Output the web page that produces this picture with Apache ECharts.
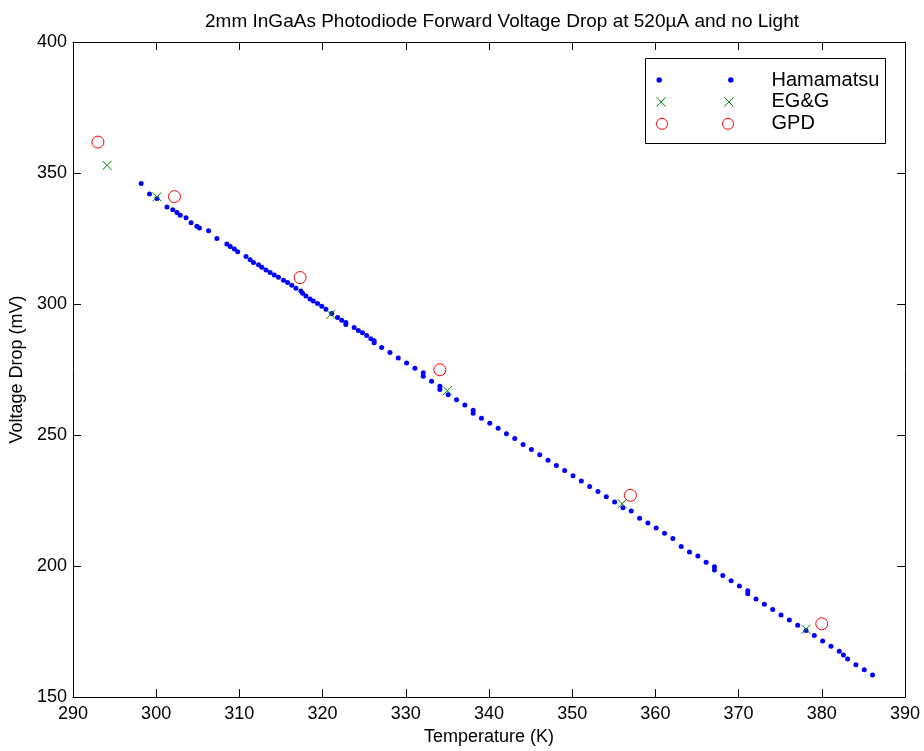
<!DOCTYPE html>
<html>
<head>
<meta charset="utf-8">
<script src="https://cdn.jsdelivr.net/npm/echarts@6/dist/echarts.min.js"></script>
<style>
  html, body { margin: 0; padding: 0; background: #fff; }
  #chart { width: 924px; height: 751px; }
</style>
</head>
<body>
<div id="chart"></div>
<script>
// Hamamatsu measurements (temperature K, voltage mV)
const hamTemp = [298.2, 299.2, 300.1, 301.3, 302.0, 302.5, 302.9, 303.6, 304.2, 304.9, 305.2, 306.3, 307.3,
  308.5, 308.9, 309.4, 309.8, 310.8, 311.3, 311.7, 312.3, 312.7, 313.2, 313.7, 314.2, 314.7, 315.3, 315.8,
  316.3, 316.8, 317.4, 317.6, 318.0, 318.5, 318.9, 319.4, 319.9, 320.4, 321.1, 321.8, 322.3, 322.8, 322.8,
  323.8, 324.3, 324.8, 325.3, 325.8, 326.2, 326.2, 327.1, 328.1, 329.1, 330.1, 331.1, 332.1, 332.1, 333.1,
  334.1, 334.1, 335.1, 336.1, 337.1, 338.1, 338.1, 339.1, 340.1, 341.1, 342.1, 343.1, 344.1, 345.1, 346.1,
  347.1, 348.1, 349.1, 350.1, 351.1, 352.1, 353.1, 354.1, 355.1, 356.1, 357.1, 358.1, 359.1, 360.1, 361.1,
  362.1, 363.1, 364.1, 365.1, 366.1, 367.1, 367.1, 368.1, 369.1, 370.1, 371.1, 371.1, 372.1, 373.1, 374.1,
  375.1, 376.1, 377.1, 378.1, 379.1, 380.1, 381.1, 382.1, 382.6, 383.1, 384.1, 385.1, 386.1]
const hamVolt = [346.0, 342.0, 340.3, 337.0, 336.0, 334.9, 333.9, 332.9, 331.0, 329.7, 329.0, 328.0, 325.0,
  322.9, 322.0, 321.0, 320.0, 318.1, 316.9, 315.9, 315.0, 314.0, 313.0, 312.0, 311.1, 310.2, 309.1, 308.2,
  307.2, 306.0, 305.0, 304.1, 303.1, 301.9, 301.2, 300.2, 299.2, 298.0, 296.4, 294.9, 293.8, 293.0, 292.2,
  291.0, 289.9, 289.0, 288.0, 286.8, 286.0, 285.2, 283.4, 281.5, 279.4, 277.5, 275.5, 273.8, 272.4, 270.5,
  268.6, 267.4, 265.4, 263.5, 261.5, 259.5, 258.3, 256.4, 254.5, 252.6, 250.5, 248.7, 246.4, 244.5, 242.5,
  240.4, 238.4, 236.5, 234.5, 232.5, 230.4, 228.5, 226.5, 224.5, 222.3, 221.0, 218.3, 216.4, 214.5, 212.5,
  210.5, 207.5, 205.4, 203.8, 201.5, 199.7, 198.5, 196.4, 194.4, 192.4, 190.6, 189.4, 187.4, 185.4, 183.4,
  181.3, 179.4, 177.4, 175.4, 173.5, 171.4, 169.4, 167.5, 166.1, 164.5, 162.3, 160.4, 158.4]

// EG&G
const egTemp = [294.1, 300.1, 321.0, 335.0, 356.0, 378.1]
const egVolt = [352.9, 340.9, 296.1, 266.9, 223.8, 175.9]

// GPD
const gpdTemp = [293.0, 302.2, 317.3, 334.1, 357.0, 380.0]
const gpdVolt = [361.8, 341.0, 310.1, 274.9, 227.0, 178.0]

const xMin = 290, xMax = 390, xStep = 10
const yMin = 150, yMax = 400, yStep = 50

const font = 'Liberation Sans, Arial, Helvetica, sans-serif'
const pairs = (xs, ys) => xs.map((x, i) => [x, ys[i]])

const crossPath = 'path://M0,0L10,10M10,0L0,10'
const dotIcon = 'path://M0,2.5a2.5,2.5 0 1,0 5,0a2.5,2.5 0 1,0 -5,0ZM66,2.5a2.5,2.5 0 1,0 5,0a2.5,2.5 0 1,0 -5,0Z'
const crossIcon = 'path://M0,0L9,9M9,0L0,9M66,0L75,9M75,0L66,9'
const ringIcon = 'path://M0,5.5a5.5,5.5 0 1,0 11,0a5.5,5.5 0 1,0 -11,0ZM66,5.5a5.5,5.5 0 1,0 11,0a5.5,5.5 0 1,0 -11,0Z'

const axisCommon = {
  axisLine: { show: true, lineStyle: { color: '#000', width: 1 } },
  axisTick: { inside: true, length: 8, lineStyle: { color: '#000' } },
  splitLine: { show: false },
}

var myChart = echarts.init(document.getElementById('chart'))
var option = {
  animation: false,
  backgroundColor: '#fff',
  textStyle: { fontFamily: font },
  title: {
    text: '2mm InGaAs Photodiode Forward Voltage Drop at 520\u00b5A and no Light',
    left: 497,
    top: 7,
    textAlign: 'center',
    textStyle: { fontSize: 19, fontWeight: 'normal', color: '#000', fontFamily: font },
  },
  grid: { left: 72, top: 42, right: 19, bottom: 52, containLabel: false },
  graphic: [
    {
      type: 'rect',
      left: 645,
      top: 58,
      z: 1,
      shape: { width: 240, height: 85 },
      style: { fill: '#fff', stroke: '#000', lineWidth: 1 },
    },
  ],
  legend: {
    orient: 'vertical',
    left: 656,
    top: 70,
    padding: 0,
    itemGap: 1.9,
    itemWidth: 77,
    itemHeight: 11,
    z: 5,
    textStyle: { fontSize: 20, color: '#000', fontFamily: font, lineHeight: 18, padding: [0, 0, 0, 33] },
    data: [
      { name: 'Hamamatsu', icon: dotIcon, itemStyle: { color: '#0000ff', borderWidth: 0, opacity: 1 } },
      { name: 'EG&G', icon: crossIcon, itemStyle: { color: 'rgba(0,0,0,0)', borderColor: '#008000', borderWidth: 1, opacity: 1 } },
      { name: 'GPD', icon: ringIcon, itemStyle: { color: 'rgba(0,0,0,0)', borderColor: '#ff0000', borderWidth: 1, opacity: 1 } },
    ],
  },
  xAxis: [
    Object.assign({}, axisCommon, {
      type: 'value', position: 'bottom', min: xMin, max: xMax, interval: xStep,
      name: 'Temperature (K)', nameLocation: 'middle', nameGap: 24,
      nameTextStyle: { fontSize: 18, color: '#000', fontFamily: font },
      axisLabel: { fontSize: 18, color: '#000', margin: 8, fontFamily: font },
    }),
    Object.assign({}, axisCommon, {
      type: 'value', position: 'top', min: xMin, max: xMax, interval: xStep,
      axisLabel: { show: false },
    }),
  ],
  yAxis: [
    Object.assign({}, axisCommon, {
      type: 'value', position: 'left', min: yMin, max: yMax, interval: yStep,
      name: 'Voltage Drop (mV)', nameLocation: 'middle', nameGap: 40,
      nameTextStyle: { fontSize: 18, color: '#000', fontFamily: font },
      axisLabel: { fontSize: 18, color: '#000', margin: 6, fontFamily: font },
    }),
    Object.assign({}, axisCommon, {
      type: 'value', position: 'right', min: yMin, max: yMax, interval: yStep,
      axisLabel: { show: false },
    }),
  ],
  series: [
    {
      name: 'Hamamatsu',
      type: 'scatter',
      data: pairs(hamTemp, hamVolt),
      symbol: 'circle',
      symbolSize: 5,
      itemStyle: { color: '#0000ff', opacity: 1 },
    },
    {
      name: 'EG&G',
      type: 'scatter',
      data: pairs(egTemp, egVolt),
      symbol: crossPath,
      symbolSize: 9,
      itemStyle: { color: 'rgba(0,0,0,0)', borderColor: '#008000', borderWidth: 1, opacity: 1 },
    },
    {
      name: 'GPD',
      type: 'scatter',
      data: pairs(gpdTemp, gpdVolt),
      symbol: 'circle',
      symbolSize: 12,
      itemStyle: { color: 'rgba(0,0,0,0)', borderColor: '#ff0000', borderWidth: 1, opacity: 1 },
    },
  ],
}
myChart.setOption(option)
</script>
</body>
</html>
